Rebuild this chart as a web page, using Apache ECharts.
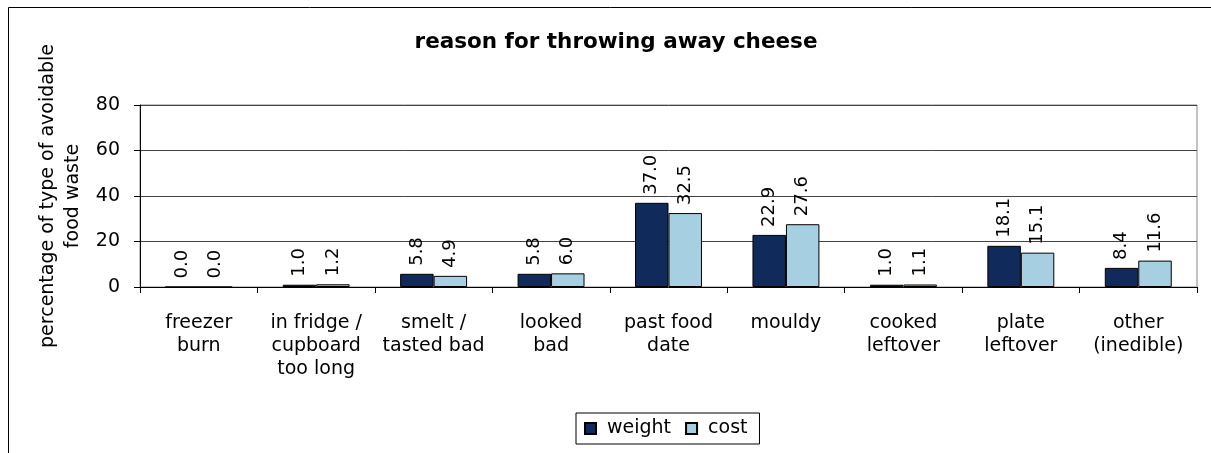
<!DOCTYPE html>
<html>
<head>
<meta charset="utf-8">
<script src="https://cdn.jsdelivr.net/npm/echarts@6/dist/echarts.min.js"></script>
<style>
html,body{margin:0;padding:0;background:#fff;}
#chart{width:1211px;height:453px;}
</style>
</head>
<body>
<div id="chart"></div>
<script>
const titleText = 'reason for throwing away cheese';
const yAxisName = 'percentage of type of avoidable\nfood waste';
const categories = ['freezer\nburn', 'in fridge /\ncupboard\ntoo long', 'smelt /\ntasted bad', 'looked\nbad', 'past food\ndate', 'mouldy', 'cooked\nleftover', 'plate\nleftover', 'other\n(inedible)'];
const seriesNames = ['weight', 'cost'];
const weightValues = [0.0, 1.0, 5.8, 5.8, 37.0, 22.9, 1.0, 18.1, 8.4];
const costValues = [0.0, 1.2, 4.9, 6.0, 32.5, 27.6, 1.1, 15.1, 11.6];
const yTicks = [0, 20, 40, 60, 80];

const FONT = '"DejaVu Sans", Verdana, sans-serif';
const chart = echarts.init(document.getElementById('chart'));

function barSeries(name, data, color) {
  return {
    name: name,
    type: 'bar',
    data: data,
    barGap: '0%',
    barCategoryGap: '43%',
    itemStyle: { color: color, borderColor: '#000', borderWidth: 1 },
    label: {
      show: true,
      position: 'top',
      rotate: 90,
      align: 'left',
      verticalAlign: 'middle',
      distance: 8,
      fontFamily: FONT,
      fontSize: 18,
      color: '#000',
      formatter: p => Number(p.value).toFixed(1)
    }
  };
}

chart.setOption({
  animation: false,
  backgroundColor: '#fff',
  title: {
    text: titleText,
    left: 611,
    top: 26,
    textAlign: 'center',
    textStyle: { fontFamily: FONT, fontSize: 21.5, fontWeight: 'bold', color: '#000' }
  },
  grid: {
    left: 140, right: 14, top: 105, bottom: 166,
    show: true, borderColor: '#888', borderWidth: 1, backgroundColor: 'transparent'
  },
  legend: {
    data: seriesNames,
    left: 576,
    top: 413,
    orient: 'horizontal',
    icon: 'rect',
    itemWidth: 11,
    itemHeight: 11,
    itemGap: 14,
    padding: [6, 12, 6, 8],
    borderColor: '#000',
    borderWidth: 1,
    textStyle: { fontFamily: FONT, fontSize: 19, color: '#000', padding: [0, 0, 0, 6] }
  },
  xAxis: {
    type: 'category',
    data: categories,
    axisLine: { show: true, lineStyle: { color: '#000', width: 1 } },
    axisTick: { show: true, length: 6, lineStyle: { color: '#000' } },
    axisLabel: { interval: 0, fontFamily: FONT, fontSize: 19, lineHeight: 23, color: '#000', margin: 25 },
    splitLine: { show: false }
  },
  yAxis: {
    type: 'value',
    min: yTicks[0],
    max: yTicks[yTicks.length - 1],
    interval: yTicks[1] - yTicks[0],
    axisLine: { show: true, lineStyle: { color: '#000', width: 1 } },
    axisTick: { show: true, length: 6, lineStyle: { color: '#000' } },
    axisLabel: { fontFamily: FONT, fontSize: 19, color: '#000', margin: 20 },
    splitLine: { show: true, lineStyle: { color: '#444', width: 1 } }
  },
  graphic: [
    {
      type: 'rect',
      shape: { x: 8.5, y: 7.5, width: 1400, height: 1000 },
      style: { fill: 'none', stroke: '#000', lineWidth: 1 },
      silent: true,
      z: -1
    },
    {
      type: 'text',
      x: 61,
      y: 196,
      rotation: Math.PI / 2,
      style: {
        text: yAxisName,
        fill: '#000',
        font: '19px ' + FONT,
        align: 'center',
        verticalAlign: 'middle',
        lineHeight: 25
      }
    }
  ],
  series: [
    barSeries(seriesNames[0], weightValues, '#102a5c'),
    barSeries(seriesNames[1], costValues, '#a7cfe2')
  ]
});
</script>
</body>
</html>
